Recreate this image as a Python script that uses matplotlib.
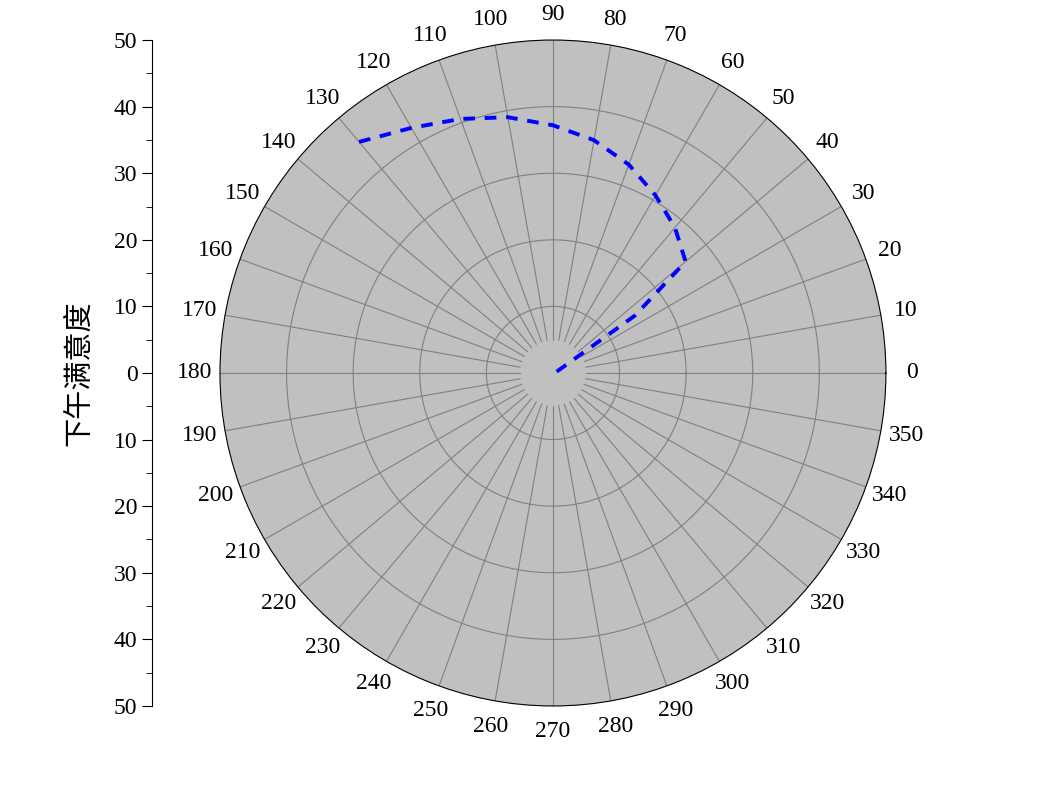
import numpy as np
import matplotlib.pyplot as plt

plt.rcParams['font.family'] = ['Liberation Serif', 'Noto Sans CJK SC']

theta_deg = [20, 35, 40, 50, 60, 70, 80, 90, 100, 110, 120, 130]
r_vals = [0.6, 15, 26, 28.5, 30.8, 33.3, 35.5, 37.2, 39, 40.6, 42.5, 45.3]
rings = [10, 20, 30, 40]
spoke_angles = np.arange(0, 360, 10)
rmax = 50

fig = plt.figure(figsize=(10.43, 7.86), dpi=100)
ax = fig.add_axes([0.2109, 0.1018, 0.6385, 0.8473], projection='polar')
ax.set_facecolor('#c0c0c0')
ax.set_ylim(0, rmax)
ax.grid(False)
ax.set_yticks([])
ax.set_xticks(np.deg2rad(spoke_angles))
ax.set_xticklabels([str(a) for a in spoke_angles], fontsize=17)
ax.tick_params(axis='x', pad=8)
ax.spines['polar'].set_color('black')
ax.spines['polar'].set_linewidth(0.8)

t = np.linspace(0, 2 * np.pi, 400)
for rr in rings:
    ax.plot(t, np.full_like(t, rr), color='#808080', lw=0.8)
for a in spoke_angles:
    ax.plot([np.deg2rad(a)] * 2, [5, rmax], color='#808080', lw=0.8)

ax.plot(np.deg2rad(theta_deg), r_vals, color='blue', lw=2.8, ls=(0, (3, 2.5)))

# left linear scale
lax = fig.add_axes([0.1457, 0.1018, 0.001, 0.8473])
lax.set_ylim(-rmax, rmax)
lax.set_xticks([])
for s in ['top', 'right', 'bottom']:
    lax.spines[s].set_visible(False)
lax.set_yticks(np.arange(-50, 51, 10))
lax.set_yticklabels([str(abs(v)) for v in range(-50, 51, 10)], fontsize=17)
lax.set_yticks(np.arange(-45, 50, 10), minor=True)
lax.tick_params(axis='y', which='major', length=7)
lax.tick_params(axis='y', which='minor', length=4)
lax.set_ylabel('下午满意度', fontsize=21, family=['Noto Sans CJK SC'], labelpad=14)

fig.savefig('out.png', dpi=100)
